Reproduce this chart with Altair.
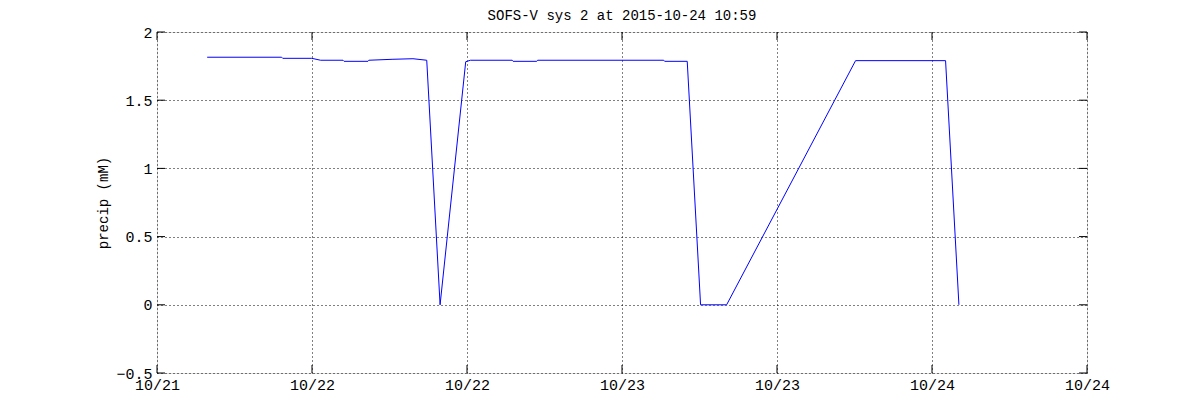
import altair as alt
import pandas as pd

# Sample times (UTC) and precip values
times = [
    "2015-10-21 15:53", "2015-10-21 21:39", "2015-10-21 21:44", "2015-10-21 23:59",
    "2015-10-22 00:40", "2015-10-22 02:24", "2015-10-22 02:29", "2015-10-22 04:20",
    "2015-10-22 04:24", "2015-10-22 06:16", "2015-10-22 07:49", "2015-10-22 08:53",
    "2015-10-22 09:55", "2015-10-22 11:54", "2015-10-22 12:16", "2015-10-22 15:30",
    "2015-10-22 15:34", "2015-10-22 17:24", "2015-10-22 17:28", "2015-10-23 03:14",
    "2015-10-23 03:18", "2015-10-23 05:03", "2015-10-23 06:05", "2015-10-23 08:06",
    "2015-10-23 18:05", "2015-10-24 01:03", "2015-10-24 02:05",
]
precip = [
    1.815, 1.815, 1.807, 1.807,
    1.793, 1.793, 1.785, 1.785,
    1.793, 1.800, 1.804, 1.793,
    0.0, 1.782, 1.793, 1.793,
    1.785, 1.785, 1.793, 1.793,
    1.785, 1.785, 0.0, 0.0,
    1.790, 1.790, 0.0,
]
x_ticks = [
    "2015-10-21 12:00", "2015-10-22 00:00", "2015-10-22 12:00", "2015-10-23 00:00",
    "2015-10-23 12:00", "2015-10-24 00:00", "2015-10-24 12:00",
]
y_ticks = [-0.5, 0, 0.5, 1, 1.5, 2]
title_text = "SOFS-V sys 2 at 2015-10-24 10:59"
y_title = "precip (mM)"


def to_ms(s):
    return int(pd.Timestamp(s, tz="UTC").value // 10**6)


df = pd.DataFrame({"t": [to_ms(s) for s in times], "precip": precip})
xt = [to_ms(s) for s in x_ticks]
xtick_df = pd.DataFrame({"t": xt})
ytick_df = pd.DataFrame({"v": y_ticks})

FONT = "Liberation Mono"
W, H = 930, 341

xscale = alt.Scale(type="utc", domain=[xt[0], xt[-1]], nice=False)
yscale = alt.Scale(domain=[-0.5, 2], nice=False, zero=False)

dash = [1, 3]

line = alt.Chart(df).mark_line(color="#0000ff", strokeWidth=1, interpolate="linear").encode(
    x=alt.X("t:T", scale=xscale, title=None,
            axis=alt.Axis(values=xt, labelExpr="utcFormat(datum.value, '%m/%d')",
                          grid=True, gridColor="black", gridDash=dash, gridOpacity=1,
                          gridWidth=1, domain=False, ticks=False,
                          labelFont=FONT, labelFontSize=15, labelColor="black",
                          labelPadding=4, labelFlush=False, labelOverlap=False)),
    y=alt.Y("precip:Q", scale=yscale, title=y_title,
            axis=alt.Axis(values=y_ticks, format="~g", grid=True, gridColor="black",
                          gridDash=dash, gridOpacity=1, gridWidth=1, domain=False,
                          ticks=False,
                          labelFont=FONT, labelFontSize=15, labelColor="black",
                          labelPadding=5, labelFlush=False, labelOverlap=False,
                          titleFont=FONT, titleFontSize=14, titleFontWeight="normal",
                          titleColor="black", titlePadding=5)),
)

xb = alt.Chart(xtick_df).mark_rule(color="black", strokeWidth=1).encode(
    x=alt.X("t:T", scale=xscale), y=alt.value(H), y2=alt.value(H - 8))
xtp = alt.Chart(xtick_df).mark_rule(color="black", strokeWidth=1).encode(
    x=alt.X("t:T", scale=xscale), y=alt.value(0), y2=alt.value(8))
yl = alt.Chart(ytick_df).mark_rule(color="black", strokeWidth=1).encode(
    y=alt.Y("v:Q", scale=yscale), x=alt.value(0), x2=alt.value(8))
yr = alt.Chart(ytick_df).mark_rule(color="black", strokeWidth=1).encode(
    y=alt.Y("v:Q", scale=yscale), x=alt.value(W), x2=alt.value(W - 8))

chart = alt.layer(line, xb, xtp, yl, yr).properties(
    width=W, height=H,
    title=alt.TitleParams(title_text, font=FONT, fontSize=14, fontWeight="normal",
                          color="black", anchor="middle", offset=2),
    autosize=alt.AutoSizeParams(type="none"),
    padding={"left": 149, "top": 24, "right": 40, "bottom": 40},
).configure_view(stroke="black", strokeWidth=1).configure(background="white")

chart.save("out.html", embed_options={"renderer": "svg", "actions": False})
